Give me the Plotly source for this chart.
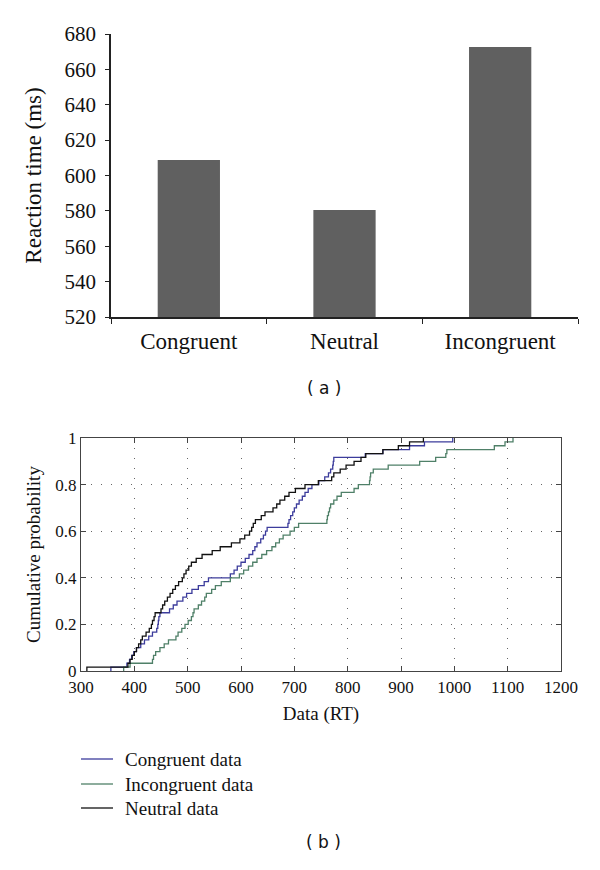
import numpy as np
import plotly.graph_objects as go

# ---- Data: panel (a) mean reaction times ----
categories = ["Congruent", "Neutral", "Incongruent"]
mean_rt = [608.8, 580.5, 672.7]

# ---- Data: panel (b) sorted reaction times (ms) ----
congruent_rt = [356, 386, 391, 395, 399, 404, 412, 419, 427, 434,
                442, 444, 445, 446, 448, 466, 473, 480, 491, 498,
                508, 520, 531, 539, 580, 587, 593, 600, 608, 615,
                622, 626, 630, 637, 642, 646, 649, 688, 690, 693,
                697, 700, 704, 709, 715, 720, 726, 733, 746, 757,
                764, 768, 772, 773, 774, 833, 866, 916, 944, 997]
incongruent_rt = [380, 392, 434, 436, 440, 448, 456, 464, 478, 482,
                  489, 495, 501, 507, 510, 512, 520, 526, 532, 535,
                  545, 552, 563, 580, 597, 605, 614, 622, 630, 639,
                  648, 658, 665, 672, 679, 692, 700, 708, 761, 762,
                  764, 766, 768, 774, 780, 788, 812, 820, 841, 842,
                  843, 848, 876, 935, 965, 984, 986, 1075, 1095, 1110]
neutral_rt = [311, 388, 392, 396, 400, 404, 408, 412, 415, 422,
              428, 432, 434, 437, 439, 450, 453, 457, 462, 467,
              472, 477, 483, 490, 493, 497, 502, 507, 516, 527,
              546, 561, 582, 598, 607, 616, 620, 623, 627, 638,
              645, 660, 667, 673, 682, 690, 702, 720, 745, 770,
              774, 786, 797, 812, 825, 834, 866, 895, 916, 942]

series_names = ["Congruent data", "Incongruent data", "Neutral data"]
series_colors = ["#3c3c9c", "#4f8068", "#111111"]

# page body has an 8px margin; figure is sized so that page == 600x870
OFF = 8
W, H = 600 - OFF, 870 - OFF
def px_x(p): return (p - OFF) / W
def px_y(p): return 1 - (p - OFF) / H

fig = go.Figure()

fig.add_trace(go.Bar(x=categories, y=mean_rt, marker=dict(color="#606060", line=dict(width=0)),
                     xaxis="x", yaxis="y", showlegend=False, width=0.4))

def ecdf(vals):
    v = np.sort(np.asarray(vals, dtype=float))
    n = len(v)
    xs = np.concatenate([[v[0]], v])
    ys = np.concatenate([[0.0], np.arange(1, n + 1) / n])
    return xs, ys

for name, vals, col in zip(series_names, [congruent_rt, incongruent_rt, neutral_rt], series_colors):
    xs, ys = ecdf(vals)
    fig.add_trace(go.Scatter(x=xs, y=ys, mode="lines", line=dict(color=col, width=1.3, shape="hv"),
                             name=name, xaxis="x2", yaxis="y2", showlegend=False))

serif = "Liberation Serif"

# legend drawn below panel (b): short line sample + label per series
legend_rows_px = [759, 784, 808]
shapes = []
annotations = []
for name, col, ypx in zip(series_names, series_colors, legend_rows_px):
    shapes.append(dict(type="line", xref="paper", yref="paper",
                       x0=px_x(81), x1=px_x(113), y0=px_y(ypx), y1=px_y(ypx),
                       line=dict(color=col, width=1.3)))
    annotations.append(dict(text=name, x=px_x(123), y=px_y(ypx), xref="paper", yref="paper",
                            xanchor="left", yanchor="middle", showarrow=False,
                            font=dict(size=19, family=serif, color="#111")))

annotations += [
    dict(text="( a )", x=px_x(324), y=px_y(388), xref="paper", yref="paper",
         showarrow=False, font=dict(size=17, family="DejaVu Sans", color="#111")),
    dict(text="( b )", x=px_x(323), y=px_y(854), xref="paper", yref="paper",
         showarrow=False, font=dict(size=17, family="DejaVu Sans", color="#111")),
]

fig.update_layout(
    template="none",
    width=W, height=H, margin=dict(l=0, r=0, t=0, b=0, pad=0), autosize=False,
    paper_bgcolor="white", plot_bgcolor="white",
    font=dict(family=serif, color="#111"),
    xaxis=dict(domain=[px_x(111), px_x(578)], anchor="y", type="category", automargin=False,
               showline=True, linecolor="#222", linewidth=1.5,
               ticks="outside", tickson="boundaries", ticklen=5, tickcolor="#222",
               ticklabelstandoff=3,
               tickfont=dict(size=23, family=serif), showgrid=False),
    yaxis=dict(domain=[px_y(317), px_y(34)], anchor="x", range=[520, 680], automargin=False,
               tickvals=list(range(520, 681, 20)),
               showline=True, linecolor="#222", linewidth=1.5,
               ticks="outside", ticklen=4, tickcolor="#222", ticklabelstandoff=5,
               tickfont=dict(size=21, family=serif), showgrid=False, zeroline=False,
               title=dict(text="Reaction time (ms)", font=dict(size=23, family=serif), standoff=16)),
    xaxis2=dict(domain=[px_x(81), px_x(561)], anchor="y2", range=[300, 1200], automargin=False,
                tickvals=list(range(300, 1201, 100)),
                showline=True, mirror="ticks", linecolor="#444", linewidth=1.2,
                ticks="inside", ticklen=5, tickcolor="#444",
                showgrid=True, gridcolor="#666", gridwidth=1, griddash="1px,9px",
                zeroline=False, tickfont=dict(size=17, family=serif),
                title=dict(text="Data (RT)", font=dict(size=19, family=serif), standoff=11)),
    yaxis2=dict(domain=[px_y(671), px_y(438)], anchor="x2", range=[0, 1], automargin=False,
                tickvals=[0, 0.2, 0.4, 0.6, 0.8, 1], ticktext=["0", "0.2", "0.4", "0.6", "0.8", "1"],
                showline=True, mirror="ticks", linecolor="#444", linewidth=1.2,
                ticks="inside", ticklen=5, tickcolor="#444",
                showgrid=True, gridcolor="#666", gridwidth=1, griddash="1px,9px",
                zeroline=False, tickfont=dict(size=17, family=serif),
                title=dict(text="Cumulative probability", font=dict(size=19, family=serif), standoff=9)),
    showlegend=False,
    shapes=shapes,
    annotations=annotations,
)

fig.write_html("out.html")
